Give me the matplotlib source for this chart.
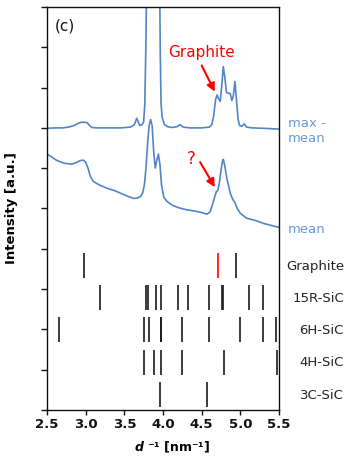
import matplotlib
matplotlib.use("Agg")
import matplotlib.pyplot as plt
import matplotlib.transforms as mtransforms

plt.rcParams['font.family'] = ['DejaVu Sans']
plt.rcParams['mathtext.fontset'] = 'custom'
plt.rcParams['mathtext.it'] = 'DejaVu Sans:italic:bold'
plt.rcParams['mathtext.rm'] = 'DejaVu Sans:bold'

# ---- data ----
# "max - mean" curve (offset already included, baseline ~7)
maxmean_x = [2.50, 2.60, 2.70, 2.78, 2.85, 2.90, 2.94, 2.98, 3.02, 3.05, 3.08, 3.15, 3.30,
             3.45, 3.58, 3.63, 3.66, 3.68, 3.70, 3.73, 3.75, 3.765, 3.78, 3.79, 3.82,
             3.86, 3.90, 3.93, 3.955, 3.965, 3.975, 3.99, 4.02, 4.06, 4.12, 4.18, 4.22,
             4.26, 4.35, 4.50, 4.60, 4.63, 4.655, 4.68, 4.70, 4.72, 4.74, 4.76, 4.78,
             4.80, 4.82, 4.85, 4.87, 4.89, 4.91, 4.93, 4.95, 4.97, 4.99, 5.02, 5.05,
             5.08, 5.15, 5.30, 5.40, 5.50]
maxmean_y = [6.99, 7.00, 7.00, 7.02, 7.06, 7.11, 7.14, 7.14, 7.13, 7.06, 7.01, 7.00, 7.00,
             7.00, 7.02, 7.08, 7.24, 7.15, 7.06, 7.08, 7.15, 7.6, 9.2, 11.0, 14.0,
             13.0, 12.0, 12.5, 11.0, 8.8, 7.6, 7.25, 7.08, 7.03, 7.01, 7.03, 7.08,
             7.02, 7.00, 7.00, 7.02, 7.08, 7.30, 7.70, 7.82, 7.72, 7.66, 8.05, 8.52,
             8.25, 7.88, 7.86, 7.85, 7.68, 7.80, 8.15, 7.70, 7.22, 7.06, 7.04, 7.10,
             7.02, 7.00, 6.99, 6.98, 6.97]

# "mean" curve
mean_x = [2.50, 2.56, 2.62, 2.67, 2.73, 2.82, 2.88, 2.93, 2.97, 3.00, 3.03, 3.06, 3.10,
          3.18, 3.28, 3.38, 3.45, 3.55, 3.62, 3.67, 3.71, 3.74, 3.76, 3.78, 3.80,
          3.82, 3.84, 3.86, 3.88, 3.90, 3.92, 3.94, 3.96, 3.98, 4.01, 4.05, 4.12,
          4.20, 4.30, 4.40, 4.50, 4.57, 4.61, 4.64, 4.67, 4.69, 4.71, 4.73, 4.75,
          4.77, 4.78, 4.80, 4.83, 4.85, 4.87, 4.89, 4.91, 4.93, 4.96, 5.00, 5.08,
          5.20, 5.30, 5.40, 5.50]
mean_y = [6.35, 6.28, 6.20, 6.16, 6.12, 6.10, 6.14, 6.19, 6.20, 6.15, 6.00, 5.80, 5.67,
          5.58, 5.50, 5.44, 5.38, 5.30, 5.25, 5.26, 5.30, 5.40, 5.60, 6.00, 6.60,
          7.05, 7.21, 7.05, 6.40, 6.00, 6.20, 6.35, 6.10, 5.60, 5.28, 5.18, 5.08,
          5.02, 4.97, 4.94, 4.90, 4.86, 4.92, 5.10, 5.30, 5.42, 5.45, 5.65, 5.95,
          6.18, 6.22, 6.05, 5.70, 5.55, 5.38, 5.28, 5.20, 5.15, 5.00, 4.88, 4.76,
          4.70, 4.63, 4.58, 4.53]

# reference stick patterns (d^-1 positions)
phases = ['3C-SiC', '4H-SiC', '6H-SiC', '15R-SiC', 'Graphite']
sticks = {
    '3C-SiC': [3.96, 4.57],
    '4H-SiC': [3.75, 3.88, 3.97, 4.25, 4.79, 5.47],
    '6H-SiC': [2.65, 3.75, 3.82, 3.97, 3.975, 4.25, 4.59, 5.00, 5.29, 5.46],
    '15R-SiC': [3.19, 3.78, 3.80, 3.91, 3.98, 4.19, 4.32, 4.60, 4.76, 4.77, 5.11, 5.29],
    'Graphite': [2.98, 4.94],
}
graphite_red = [4.71]

xticks = [2.5, 3.0, 3.5, 4.0, 4.5, 5.0, 5.5]

# ---- figure ----
fig = plt.figure(figsize=(3.5, 4.67), dpi=100)
ax = fig.add_axes([47/350, 57/467, 232/350, 403/467])

line_c = '#5384c8'
label_c = '#6a98d4'

ax.plot(maxmean_x, maxmean_y, color=line_c, lw=1.2)
ax.plot(mean_x, mean_y, color=line_c, lw=1.2)

blend = mtransforms.blended_transform_factory(ax.transAxes, ax.transData)

row_gap = 0.8
for i, ph in enumerate(phases):
    base = i * row_gap
    ax.vlines(sticks[ph], base + 0.08, base + 0.70, color='#1a1a1a', lw=1.2)
    ax.text(1.28, base + 0.28, ph, transform=blend,
            ha='right', va='baseline', fontsize=9.5, color='#222222', clip_on=False)
    if ph == 'Graphite':
        ax.vlines(graphite_red, base + 0.08, base + 0.70, color='red', lw=1.2)

ax.set_xlim(2.5, 5.5)
ax.set_ylim(0, 10)
ax.set_xticks(xticks)
ax.set_xticklabels([f'{v:.1f}' for v in xticks], fontweight='bold', fontsize=9.5)
ax.set_yticks(range(0, 11))
ax.set_yticklabels([])
ax.tick_params(axis='x', direction='out', length=3.5, width=1.0, pad=2, colors='#111111')
ax.tick_params(axis='y', direction='out', length=4, width=1.0, colors='#111111')
for s in ax.spines.values():
    s.set_linewidth(1.0)
    s.set_color('#111111')

ax.set_ylabel('Intensity [a.u.]', fontweight='bold', fontsize=9.5)
ax.yaxis.set_label_coords(-0.125, 0.5)
ax.set_xlabel('$d$ ⁻¹ [nm⁻¹]', fontweight='bold', fontsize=9)
ax.xaxis.set_label_coords(0.54, -0.075)

ax.text(1.039, 7.02, 'max -', transform=blend, ha='left', va='baseline', fontsize=9.5, color=label_c)
ax.text(1.039, 6.65, 'mean', transform=blend, ha='left', va='baseline', fontsize=9.5, color=label_c)
ax.text(1.039, 4.40, 'mean', transform=blend, ha='left', va='baseline', fontsize=9.5, color=label_c)

ax.text(2.60, 9.42, '(c)', ha='left', va='baseline', fontsize=11, color='#111111')

ax.annotate('', xy=(4.67, 7.90), xytext=(4.50, 8.55),
            arrowprops=dict(arrowstyle='-|>', color='red', lw=1.5, mutation_scale=12, shrinkA=0, shrinkB=0))
ax.text(4.50, 8.86, 'Graphite', ha='center', va='center', fontsize=11, color='red')
ax.annotate('', xy=(4.67, 5.53), xytext=(4.48, 6.15),
            arrowprops=dict(arrowstyle='-|>', color='red', lw=1.5, mutation_scale=12, shrinkA=0, shrinkB=0))
ax.text(4.37, 6.22, '?', ha='center', va='center', fontsize=12, color='red')

fig.savefig('out.png', dpi=100)
